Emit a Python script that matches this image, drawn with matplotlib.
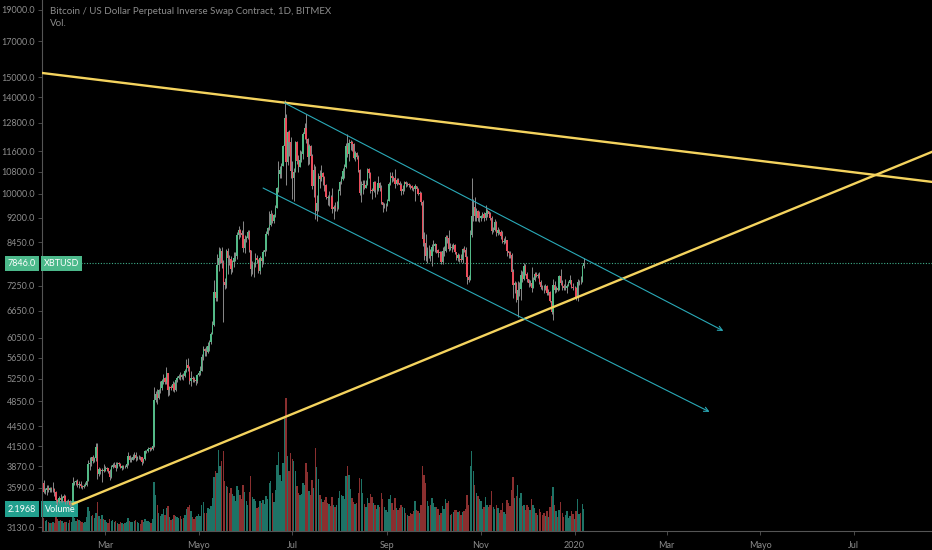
import matplotlib
matplotlib.use("Agg")
import matplotlib.pyplot as plt
import matplotlib.dates as mdates
import matplotlib.ticker as mticker
import numpy as np
import pandas as pd

# daily XBTUSD candles, 2019-01-20 .. 2020-01-07
first_open = 3650
closes = [
    3540, 3560, 3590, 3560, 3580, 3570, 3570, 3540, 3440, 3410, 3460, 3440,
    3460, 3490, 3410, 3420, 3430, 3380, 3390, 3650, 3660, 3680, 3620, 3640, 3610, 3600,
    3610, 3630, 3680, 3900, 3910, 3990, 3940, 3980, 4130, 3760, 3830, 3800, 3820, 3810,
    3830, 3840, 3810, 3720, 3860, 3880, 3890, 3850, 3910, 3900, 3850, 3870, 3860, 3860, 3900, 4010,
    3950, 3960, 4000, 4030, 3980, 3990, 4000, 3990, 3930, 3970, 4080, 4080, 4110, 4120, 4110,
    4150, 4880, 4970, 4910, 5050, 5080, 5200, 5270, 5190, 5360, 5050, 5090, 5080, 5160, 5050,
    5220, 5270, 5300, 5280, 5320, 5300, 5400, 5510, 5440, 5210, 5260, 5250, 5220, 5200, 5320,
    5350, 5400, 5660, 5830, 5780, 5760, 5880, 5960, 6140, 6330, 7090, 6960, 7810, 7990, 8200, 7860,
    7360, 7270, 8190, 7990, 7970, 7700, 7880, 7990, 8050, 8670, 8800, 8720, 8660, 8270, 8550,
    8560, 8740, 8210, 7700, 7790, 7800, 8000, 7940, 7630, 8000, 7920, 8150, 8230, 8690, 8860,
    8980, 9320, 9080, 9270, 9530, 10200, 10700, 10850, 11010, 11790, 13000, 11180, 12400, 11960, 10820,
    10580, 10800, 11960, 11220, 10990, 11250, 11480, 12300, 12570, 12100, 11350, 11810, 11390, 10260, 10870,
    9430, 9670, 10630, 10530, 10760, 10600, 10320, 9900, 9840, 9900, 9870, 9480, 9550, 9520, 9530, 10090,
    10400, 10520, 10820, 10980, 11800, 11470, 11950, 11970, 11880, 11340, 11530, 11380, 10860, 10020, 10300,
    10340, 10210, 10320, 10900, 10760, 10130, 10090, 10400, 10130, 10140, 10370, 10190, 9700, 9600, 9600, 9610,
    9760, 10340, 10620, 10580, 10570, 10330, 10480, 10390, 10300, 10100, 10160, 10420, 10360, 10360, 10310,
    10260, 10190, 10160, 10270, 10180, 9990, 10020, 9700, 8530, 8430, 8060, 8180, 8190, 8040, 8300,
    8340, 8390, 8230, 8140, 8150, 7880, 8200, 8200, 8590, 8580, 8260, 8300, 8280, 8360, 8160, 8000,
    8080, 7960, 7950, 8240, 8220, 8020, 7470, 7410, 8660, 9250, 9550, 9250, 9430, 9190, 9200,
    9260, 9320, 9180, 9340, 9400, 9310, 9200, 8770, 8810, 9050, 8720, 8800, 8760, 8620, 8460,
    8480, 8500, 8180, 8130, 8080, 7620, 7280, 7330, 6900, 7150, 7180, 7520, 7430, 7760, 7570,
    7420, 7320, 7320, 7200, 7400, 7550, 7510, 7520, 7340, 7220, 7200, 7190, 7250, 7070, 7110, 6880,
    6620, 7280, 7150, 7190, 7150, 7510, 7320, 7260, 7200, 7200, 7250, 7320, 7390, 7220, 7190,
    7200, 6960, 7340, 7360, 7350, 7760, 7846,
]
highs = [
    3690, 3590, 3630, 3620, 3600, 3600, 3660, 3580, 3550, 3450, 3490, 3510,
    3490, 3510, 3500, 3440, 3450, 3440, 3410, 3720, 3680, 3690, 3700, 3670, 3670, 3630,
    3640, 3660, 3700, 3960, 3990, 4000, 4020, 3990, 4190, 4200, 3860, 3850, 3840, 3900,
    3870, 3860, 3850, 3830, 3880, 3910, 3920, 3920, 3930, 3920, 3910, 3890, 3880, 3880, 3920, 4060,
    4020, 4000, 4040, 4060, 4060, 4010, 4020, 4010, 4000, 3980, 4090, 4100, 4130, 4140, 4130,
    4180, 5100, 5020, 5070, 5060, 5200, 5250, 5340, 5280, 5470, 5360, 5110, 5130, 5200, 5190,
    5240, 5300, 5340, 5380, 5340, 5350, 5420, 5620, 5640, 5480, 5400, 5300, 5280, 5260, 5340,
    5400, 5480, 5720, 5880, 5850, 5880, 5960, 6000, 6180, 6420, 7400, 7500, 8100, 8300, 8290, 8300,
    7950, 7450, 8250, 8280, 8080, 8040, 7950, 8150, 8150, 8750, 8950, 8830, 8800, 9100, 8650,
    8620, 8800, 8810, 8230, 7900, 7880, 8130, 8080, 7960, 8050, 8020, 8230, 8300, 8780, 8900,
    9400, 9450, 9350, 9320, 9600, 10250, 11200, 11000, 11120, 11850, 13850, 13200, 12450, 12500, 12200,
    11200, 10950, 12000, 12000, 11450, 11650, 11600, 12400, 12800, 13200, 12150, 11900, 11850, 11500, 11100,
    11000, 9970, 10750, 10850, 11050, 10800, 10650, 10350, 9950, 10100, 9950, 10190, 9600, 9700, 9750, 10150,
    10450, 10650, 10950, 11080, 11950, 12300, 12100, 12050, 12000, 11950, 11600, 11550, 11450, 10900, 10450,
    10500, 10480, 10500, 10950, 10950, 10800, 10200, 10450, 10450, 10380, 10620, 10400, 10300, 9730, 9680, 9680,
    9800, 10420, 10780, 10800, 10620, 10900, 10560, 10580, 10450, 10380, 10300, 10450, 10450, 10400, 10380,
    10350, 10290, 10250, 10350, 10280, 10200, 10080, 10050, 9790, 8750, 8700, 8300, 8350, 8240, 8400,
    8500, 8420, 8400, 8240, 8200, 8180, 8300, 8330, 8650, 8650, 8800, 8420, 8400, 8420, 8400, 8170,
    8130, 8100, 8100, 8280, 8320, 8300, 8050, 7520, 8800, 10550, 9820, 9900, 9500, 9450, 9420,
    9300, 9380, 9380, 9600, 9480, 9420, 9380, 9250, 8890, 9150, 9100, 8900, 8850, 8800, 8780,
    8560, 8620, 8520, 8200, 8200, 8130, 7700, 7380, 7350, 7380, 7360, 7660, 7630, 7860, 7830,
    7600, 7430, 7400, 7750, 7480, 7600, 7620, 7580, 7620, 7390, 7280, 7270, 7300, 7280, 7180, 7130,
    6940, 7430, 7380, 7240, 7200, 7520, 7680, 7400, 7290, 7430, 7300, 7380, 7520, 7410, 7330,
    7260, 7220, 7420, 7400, 7500, 7800, 8000,
]
lows = [
    3520, 3510, 3500, 3540, 3540, 3540, 3540, 3490, 3400, 3380, 3400, 3420,
    3420, 3450, 3390, 3390, 3410, 3360, 3370, 3380, 3620, 3620, 3600, 3580, 3590, 3570,
    3580, 3610, 3610, 3670, 3820, 3870, 3910, 3930, 3940, 3700, 3740, 3760, 3660, 3790,
    3800, 3800, 3780, 3690, 3710, 3850, 3860, 3810, 3840, 3870, 3840, 3820, 3830, 3840, 3840, 3890,
    3930, 3920, 3950, 3970, 3940, 3950, 3970, 3960, 3880, 3910, 3950, 4050, 4060, 4080, 4090,
    4090, 4140, 4840, 4800, 4890, 5000, 5050, 5150, 5160, 5160, 4940, 4950, 5040, 5030, 5010,
    5030, 5180, 5250, 5220, 5240, 5230, 5280, 5380, 5400, 5160, 5120, 5190, 5180, 5140, 5170,
    5300, 5320, 5390, 5600, 5680, 5680, 5740, 5780, 5930, 6130, 6300, 6880, 6870, 7650, 7850, 7720,
    6400, 7170, 7200, 7550, 7800, 7550, 7600, 7750, 7900, 7970, 8550, 8600, 8500, 8170, 8120,
    8450, 8530, 8160, 7500, 7550, 7480, 7740, 7850, 7580, 7560, 7750, 7820, 8050, 8200, 8650,
    8800, 8950, 9030, 9040, 9230, 9500, 10050, 10550, 10560, 11000, 11680, 10300, 11050, 11410, 10550,
    9800, 9750, 10800, 11100, 10780, 10980, 11150, 11300, 12100, 11950, 11050, 11100, 10900, 10150, 9900,
    9150, 9100, 9400, 10200, 10450, 10300, 10080, 9800, 9620, 9580, 9650, 9350, 9150, 9430, 9400, 9480,
    9960, 10350, 10480, 10550, 10950, 11350, 11200, 11650, 11600, 11280, 11200, 11300, 10800, 9950, 9700,
    10000, 10150, 10200, 10300, 10550, 10030, 9800, 10050, 9880, 10000, 10100, 10100, 9650, 9380, 9520, 9430,
    9580, 9740, 10320, 10400, 10450, 10200, 10300, 10330, 10150, 9950, 10000, 10100, 10250, 10260, 10250,
    10150, 10140, 10100, 9750, 10100, 9940, 9900, 9620, 8320, 7950, 7900, 7850, 8000, 7900, 7780,
    8200, 8150, 8120, 8030, 8080, 7840, 7820, 8050, 8150, 8420, 8200, 8230, 8150, 8240, 8100, 7950,
    7900, 7890, 7880, 7850, 8160, 7980, 7300, 7340, 7390, 8610, 9100, 9080, 9100, 9080, 9050,
    9100, 9190, 9080, 9130, 9220, 9220, 9130, 8700, 8760, 8770, 8620, 8650, 8700, 8540, 8420,
    8390, 8430, 8050, 8000, 8000, 7520, 6950, 7080, 6850, 6500, 7000, 6900, 7360, 7410, 7530,
    7350, 7220, 7250, 7100, 7200, 7370, 7470, 7450, 7300, 7180, 7150, 7070, 7150, 7030, 7020, 6850,
    6570, 6450, 7080, 7100, 7130, 7150, 7270, 7150, 7150, 7150, 7080, 7250, 7300, 7200, 7150,
    7150, 6900, 6870, 7270, 7310, 7340, 7720,
]
# volume in billions of contracts
volumes = [
    1.3, 1.0, 1.1, 0.9, 0.8, 0.8, 0.9, 0.8, 1.4, 1.2, 1.0, 1.1,
    1.0, 0.8, 0.9, 0.9, 0.8, 1.1, 0.9, 2.6, 1.3, 1.0, 1.2, 1.1, 1.0, 0.9,
    0.8, 0.9, 1.4, 2.4, 2.0, 1.5, 1.6, 1.3, 1.8, 2.9, 1.5, 1.2, 1.6, 1.2,
    1.1, 0.9, 0.8, 1.2, 1.0, 1.1, 0.9, 1.0, 0.8, 0.7, 0.9, 0.8, 0.7, 0.8, 0.9, 1.3,
    1.0, 0.9, 0.9, 1.0, 1.1, 0.9, 0.8, 0.7, 1.1, 0.9, 1.2, 1.0, 1.0, 0.9, 0.8,
    1.2, 4.9, 3.6, 2.6, 1.8, 1.5, 1.7, 2.2, 1.6, 2.3, 2.5, 1.4, 1.1, 1.2, 1.6,
    1.5, 1.4, 1.3, 1.5, 1.2, 1.3, 1.6, 2.2, 2.4, 2.6, 2.0, 1.4, 1.2, 1.4, 1.5,
    1.7, 1.5, 2.6, 2.9, 1.8, 1.8, 2.3, 2.2, 2.5, 3.3, 5.4, 6.0, 5.8, 8.1, 6.5, 7.0,
    8.0, 5.0, 4.5, 4.4, 3.8, 4.3, 3.7, 3.5, 3.0, 4.5, 4.1, 3.6, 3.2, 4.6, 3.9,
    3.0, 2.6, 3.9, 5.5, 3.4, 3.2, 3.0, 2.3, 2.4, 3.0, 2.8, 3.1, 2.7, 3.5, 3.2,
    4.8, 5.0, 3.8, 2.9, 4.1, 6.6, 7.9, 5.6, 5.0, 6.8, 11.5, 13.3, 7.5, 6.0, 7.8,
    7.2, 7.0, 6.0, 4.5, 3.8, 3.6, 3.7, 4.8, 4.6, 6.8, 5.9, 4.0, 3.6, 5.1, 4.3,
    8.3, 6.4, 5.2, 3.6, 3.2, 2.9, 3.1, 3.4, 2.8, 2.7, 2.5, 3.4, 2.6, 2.4, 2.6, 3.3,
    4.0, 3.6, 3.5, 3.2, 5.5, 6.5, 5.6, 4.2, 3.3, 2.9, 2.7, 2.8, 3.8, 5.3, 5.2,
    3.8, 2.7, 2.4, 3.3, 2.8, 3.7, 3.4, 2.8, 2.6, 2.2, 2.6, 2.4, 3.8, 3.2, 2.4, 2.1,
    1.9, 3.2, 3.6, 2.8, 2.1, 3.3, 2.3, 2.1, 2.3, 2.6, 2.4, 2.3, 1.8, 1.6, 1.5,
    1.8, 1.7, 2.0, 3.0, 2.1, 2.0, 1.8, 2.6, 6.5, 5.6, 4.8, 3.0, 2.5, 2.6, 3.3,
    2.8, 2.4, 2.4, 2.2, 1.6, 1.8, 2.5, 2.2, 3.2, 2.8, 3.0, 1.6, 1.7, 1.9, 2.1, 2.1,
    1.9, 2.0, 1.6, 1.9, 2.0, 2.2, 3.6, 2.6, 6.5, 8.0, 6.0, 4.6, 3.8, 3.5, 3.2,
    3.0, 2.2, 2.4, 3.4, 2.6, 2.4, 2.6, 4.0, 2.4, 2.2, 2.6, 2.3, 1.8, 2.1, 2.8,
    1.9, 1.7, 3.1, 2.8, 2.5, 4.1, 5.4, 3.3, 3.5, 4.6, 3.3, 3.8, 2.5, 2.6, 2.1,
    2.6, 2.4, 2.1, 3.2, 2.6, 2.3, 1.8, 1.6, 2.2, 1.9, 1.6, 1.8, 1.5, 2.0, 1.4, 2.4,
    3.5, 4.4, 2.6, 2.0, 1.4, 2.1, 2.9, 1.8, 1.4, 1.6, 2.0, 1.3, 1.5, 2.0, 1.7,
    1.2, 2.0, 3.2, 1.7, 1.8, 2.7, 2.1968,
]

price_ticks = [3130, 3590, 3870, 4150, 4450, 4850, 5250, 5650, 6050, 6650, 7250,
               8450, 9200, 10000, 10800, 11600, 12800, 14000, 15000, 17000, 19000]
month_ticks = ["2019-03-01", "2019-05-01", "2019-07-01", "2019-09-01", "2019-11-01",
               "2020-01-01", "2020-03-01", "2020-05-01", "2020-07-01"]
month_labels = ["Mar", "Mayo", "Jul", "Sep", "Nov", "2020", "Mar", "Mayo", "Jul"]

last_price = 7846.0
last_volume = 2.1968

# drawings on the chart
resistance_dates = ["2019-01-19", "2020-08-21"]
resistance_prices = [15230, 10420]
support_dates = ["2019-02-08", "2020-08-21"]
support_prices = [3392, 11570]
channel_top_dates = ["2019-06-26", "2020-04-07"]
channel_top_prices = [13720, 6200]
channel_bot_dates = ["2019-06-12", "2020-03-29"]
channel_bot_prices = [10200, 4676]

UP = "#53b987"
DOWN = "#eb4d5c"
WICK = "#8a8a8a"
TXT = "#8c8c8c"

plt.rcParams["font.family"] = ["Lato", "DejaVu Sans"]

dates = pd.date_range("2019-01-20", periods=len(closes), freq="D")
x = mdates.date2num(dates)
c = np.array(closes, dtype=float)
o = np.array([first_open] + closes[:-1], dtype=float)
h = np.array(highs, dtype=float)
l = np.array(lows, dtype=float)
up = c >= o

fig = plt.figure(figsize=(9.32, 5.5), dpi=100, facecolor="black")
rect = [42 / 932, 19 / 550, 890 / 932, 531 / 550]
axv = fig.add_axes(rect)
ax = fig.add_axes(rect, sharex=axv)
ax.patch.set_visible(False)
axv.set_facecolor("black")

# volume underneath the candles
vol_colors = np.where(up, "#1e7366", "#8a2f2f")
axv.bar(x, volumes, width=0.9, color=vol_colors, linewidth=0)
axv.set_ylim(0, 53.1)
axv.set_axis_off()

# candles
body_colors = np.where(up, UP, DOWN)
ax.vlines(x, l, h, color=WICK, linewidth=0.7, zorder=2)
ax.bar(x, np.abs(c - o), bottom=np.minimum(o, c), width=0.9,
       color=body_colors, linewidth=0, zorder=3)

ax.set_yscale("log")
ax.set_ylim(3087, 19640)
ax.set_yticks(price_ticks)
ax.yaxis.set_major_formatter(mticker.FuncFormatter(lambda v, p: f"{v:.1f}"))
ax.yaxis.set_minor_locator(mticker.NullLocator())

jan1 = mdates.date2num(pd.Timestamp("2020-01-01"))
ax.set_xlim(jan1 - 347.1, jan1 + 233.0)
ax.set_xticks(mdates.date2num(pd.to_datetime(month_ticks)))
ax.set_xticklabels(month_labels)
ax.xaxis.set_minor_locator(mticker.NullLocator())

ax.tick_params(axis="both", colors="#555555", labelcolor=TXT, labelsize=6.5,
               length=3, width=0.6)
ax.tick_params(axis="y", pad=2)
ax.tick_params(axis="x", pad=4)
for s in ["top", "right"]:
    ax.spines[s].set_visible(False)
for s in ["left", "bottom"]:
    ax.spines[s].set_color("#555555")
    ax.spines[s].set_linewidth(0.8)


def dn(ds):
    return mdates.date2num(pd.to_datetime(ds))


# trend lines
ax.plot(dn(resistance_dates), resistance_prices, color="#f4d35e", lw=1.7, zorder=4)
ax.plot(dn(support_dates), support_prices, color="#f4d35e", lw=1.7, zorder=4)
for ds, ps in [(channel_top_dates, channel_top_prices), (channel_bot_dates, channel_bot_prices)]:
    xs = dn(ds)
    ax.annotate("", xy=(xs[1], ps[1]), xytext=(xs[0], ps[0]),
                arrowprops=dict(arrowstyle="->", color="#2aaab8", lw=0.8,
                                shrinkA=0, shrinkB=0, mutation_scale=8),
                zorder=4)

# last price line and labels
ax.axhline(last_price, color="#3fae8a", lw=0.8, ls=(0, (1, 1.5)), zorder=1)
box_price = dict(boxstyle="square,pad=0.35", fc="#4cb98b", ec="none")
box_vol = dict(boxstyle="square,pad=0.35", fc="#22a08e", ec="none")
ytr = ax.get_yaxis_transform()
ax.text(-0.0225, last_price, f"{last_price:.1f}", transform=ytr, ha="center", va="center",
        fontsize=6.5, color="white", clip_on=False, zorder=6, bbox=box_price)
ax.text(0.022, last_price, "XBTUSD", transform=ytr, ha="center", va="center",
        fontsize=6.5, color="white", zorder=6, bbox=box_price)

vtr = axv.get_yaxis_transform()
axv.text(-0.0225, last_volume, f"{last_volume:.4f}", transform=vtr, ha="center", va="center",
         fontsize=6.5, color="white", clip_on=False, zorder=6, bbox=box_vol)
axv.text(0.02, last_volume, "Volume", transform=vtr, ha="center", va="center",
         fontsize=6.5, color="white", zorder=6, bbox=box_vol)

fig.text(50 / 932, 1 - 12 / 550, "Bitcoin / US Dollar Perpetual Inverse Swap Contract, 1D, BITMEX",
         color=TXT, fontsize=7, va="center")
fig.text(50 / 932, 1 - 24 / 550, "Vol.", color=TXT, fontsize=7, va="center")

fig.savefig("out.png", dpi=100, facecolor="black")
